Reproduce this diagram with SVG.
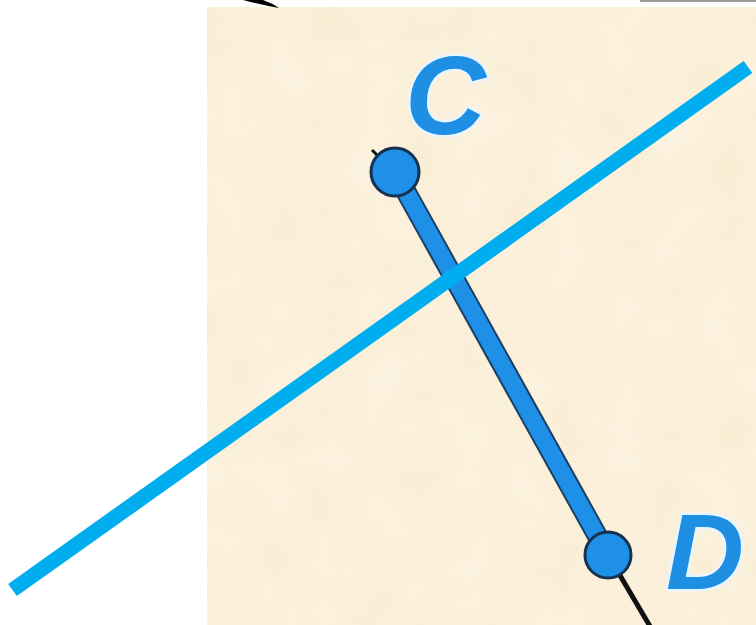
<svg xmlns="http://www.w3.org/2000/svg" width="756" height="625" viewBox="0 0 756 625">
<style>
.lbl{font-family:"Liberation Sans",Arial,sans-serif;font-weight:bold;font-style:italic;fill:#1F8FE3;stroke:#EAF6FF;stroke-width:5;paint-order:stroke;stroke-linejoin:round}
.pt{fill:#1E90E8;stroke:#16324F;stroke-width:3}
</style>
<defs>
<filter id="tex" x="0" y="0" width="1" height="1">
<feTurbulence type="fractalNoise" baseFrequency="0.02" numOctaves="3" seed="4" result="n"/>
<feColorMatrix in="n" type="matrix" values="0 0 0 0 1  0 0 0 0 0.96  0 0 0 0 0.88  0 0 0 0.5 0" result="c"/>
<feComposite in="c" in2="SourceGraphic" operator="in"/>
</filter>
</defs>
<rect width="756" height="625" fill="#FFFFFF"/>
<g id="background">
<rect x="207" y="7" width="549" height="618" fill="#F9ECD2"/>
<rect x="207" y="7" width="549" height="618" fill="#F9ECD2" filter="url(#tex)"/>
<path d="M243,0 L263,0 Q272,3 279,8 Q262,5 243,0 Z" fill="#000"/>
<line x1="640" y1="1" x2="756" y2="1" stroke="#9A9A9A" stroke-width="2"/>
</g>
<g id="connectors">
<line id="ray-D" x1="608" y1="555" x2="651" y2="628" stroke="#111" stroke-width="5"/>
<line id="segment-CD" x1="395" y1="172" x2="608" y2="555" stroke="#1B3F63" stroke-width="21"/>
<line x1="395" y1="172" x2="608" y2="555" stroke="#1E90E8" stroke-width="17"/>
<line id="bisector" x1="12.5" y1="590" x2="748" y2="67" stroke="#00AEEF" stroke-width="15"/>
</g>
<g id="node-C">
<line x1="372" y1="150" x2="380" y2="158" stroke="#111" stroke-width="3"/>
<circle class="pt" cx="395" cy="172" r="24"/>
<text class="lbl" x="405" y="134" font-size="112">C</text>
</g>
<g id="node-D">
<circle class="pt" cx="608" cy="555" r="23"/>
<text class="lbl" x="666" y="589" font-size="108">D</text>
</g>
</svg>
